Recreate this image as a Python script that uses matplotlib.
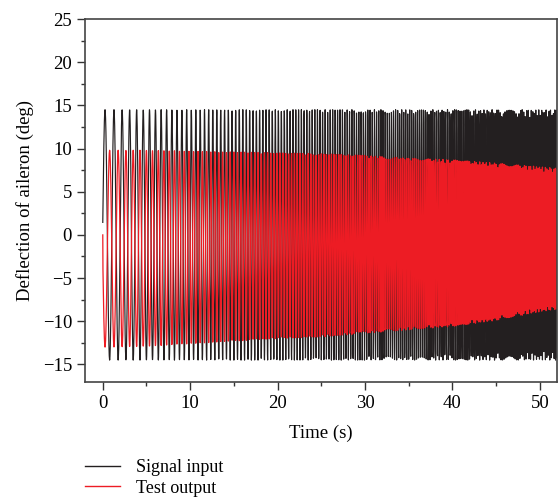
import numpy as np
import matplotlib
matplotlib.use("Agg")
import matplotlib.pyplot as plt
from matplotlib.ticker import MultipleLocator

# ---- data ----
# knot times (s)
knot_t = [0, 5, 10, 15, 20, 25, 30, 35, 40, 45, 50, 52]
# instantaneous sweep frequency of the input (Hz) at the knots
knot_freq = [0.9, 1.4, 1.9, 2.4, 2.9, 3.4, 3.9, 4.4, 4.9, 5.4, 5.9, 6.1]
# input amplitude (deg)
knot_in_amp = [14.5, 14.5, 14.5, 14.5, 14.5, 14.5, 14.5, 14.5, 14.5, 14.5, 14.5, 14.5]
# output upper / lower envelopes (deg)
knot_out_top = [9.8, 9.8, 9.7, 9.6, 9.5, 9.4, 9.2, 8.9, 8.7, 8.3, 7.9, 7.7]
knot_out_bot = [-13.0, -12.9, -12.6, -12.3, -12.0, -11.8, -11.4, -11.0, -10.6, -9.9, -8.9, -8.6]
# output phase lag behind input (cycles)
out_lag_cycles = 0.5
sample_dt = 0.02

series_names = ["Signal input", "Test output"]
series_colors = ["#231f20", "#ed1c24"]
x_ticks = [0, 10, 20, 30, 40, 50]
y_ticks = [-15, -10, -5, 0, 5, 10, 15, 20, 25]

# ---- build the sampled records from the knots ----
t = np.arange(0, knot_t[-1] + sample_dt / 2, sample_dt)
freq = np.interp(t, knot_t, knot_freq)
phase = 2 * np.pi * np.concatenate([[0], np.cumsum(freq[:-1] * sample_dt)]) + 0.1
sig_in = np.interp(t, knot_t, knot_in_amp) * np.sin(phase)
top = np.interp(t, knot_t, knot_out_top)
bot = np.interp(t, knot_t, knot_out_bot)
sig_out = (top + bot) / 2 + (top - bot) / 2 * np.sin(phase - 2 * np.pi * out_lag_cycles)
sig_out[0] = 0.0

plt.rcParams["font.family"] = ["Liberation Serif", "DejaVu Serif"]
fig = plt.figure(figsize=(5.59, 5.01), dpi=100)
ax = fig.add_axes([85.3 / 559, 1 - 381.7 / 501, 472 / 559, 362.7 / 501])

l1, = ax.plot(t, sig_in, color=series_colors[0], lw=0.85, label=series_names[0])
l2, = ax.plot(t, sig_out, color=series_colors[1], lw=0.9, label=series_names[1])

ax.set_xlim(-2, 52)
ax.set_ylim(-17, 25)
ax.set_xticks(x_ticks)
ax.set_yticks(y_ticks)
ax.xaxis.set_minor_locator(MultipleLocator(5))
ax.yaxis.set_minor_locator(MultipleLocator(2.5))
ax.tick_params(which="both", direction="out", top=False, right=False,
               labelsize=13.5, color="#333333", width=1.0)
ax.tick_params(which="major", length=5.5, pad=4)
ax.tick_params(which="minor", length=3)
for s in ax.spines.values():
    s.set_color("#444444")
    s.set_linewidth(1.2)

ax.set_xlabel("Time (s)", fontsize=13.5, labelpad=9)
ax.set_ylabel("Deflection of aileron (deg)", fontsize=13.5, labelpad=6)

fig.legend(handles=[l1, l2], loc="center left",
           bbox_to_anchor=(85 / 559, 1 - 478 / 501), frameon=False,
           fontsize=13, handlelength=1.95, handletextpad=0.85,
           labelspacing=0.2, borderpad=0, borderaxespad=0)
for lh in fig.legends[0].get_lines():
    lh.set_linewidth(1.0)

fig.savefig("out.png", dpi=100)
